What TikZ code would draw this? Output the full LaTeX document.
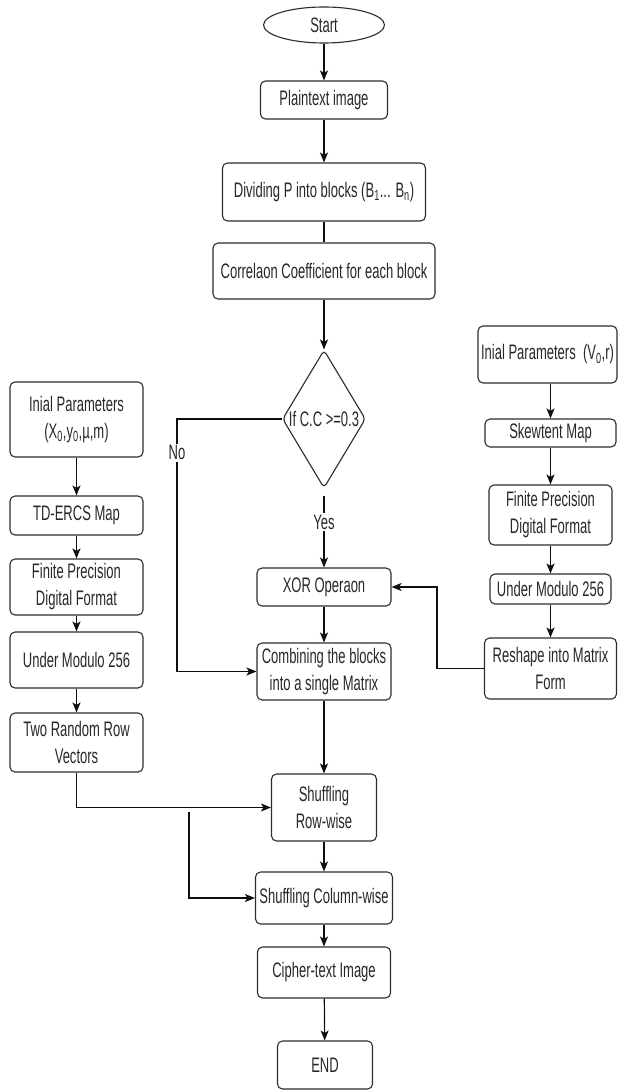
\documentclass[tikz,border=0pt]{standalone}
\usepackage{fontspec}
\setmainfont{Liberation Sans}[FakeStretch=0.62]
\usetikzlibrary{shapes.geometric,arrows.meta,calc}
\definecolor{linec}{RGB}{45,45,45}
\definecolor{txtc}{RGB}{40,40,40}
\definecolor{arrc}{RGB}{15,15,15}
\begin{document}
\begin{tikzpicture}[x=1pt,y=-1pt,
  font=\fontsize{21}{27}\selectfont,
  box/.style={draw=linec, line width=1.1pt, rounded corners=5pt, inner sep=1pt, align=center, text=txtc},
  sz/.style 2 args={minimum width=#1pt, minimum height=#2pt},
  arr/.style={draw=arrc, line width=1.2pt, -{Stealth[length=10pt,width=8pt,inset=2.5pt]}},
  ln/.style={draw=arrc, line width=1.2pt},
  lbl/.style={fill=white, inner sep=2pt, text=txtc}]
\useasboundingbox (0,0) rectangle (618,1091);
\fill[white] (0,0) rectangle (618,1091);

% main column
\node[draw=linec, line width=1.1pt, ellipse, inner sep=0, sz={121}{36}, text=txtc] (start) at (324,25) {Start};
\node[box, sz={127}{38}] (plain) at (324,100) {Plaintext image};
\node[box, sz={203}{58}] (div) at (324,192) {Dividing P into blocks (B\textsubscript{1}... B\textsubscript{n})};
\node[box, sz={222}{56}] (corr) at (324,271) {Correlaon Coefficient for each block};
\node[draw=linec, line width=1.1pt, diamond, rounded corners=4pt, inner sep=0, sz={83}{138}] (dec) at (324,419) {};
\node[text=txtc, inner sep=0] (dectxt) at (dec) {If C.C >=0.3};
\node[box, sz={134}{38}] (xor) at (324,587) {XOR Operaon};
\node[box, sz={134}{57}] (comb) at (324,671.5) {Combining the blocks\\into a single Matrix};
\node[box, sz={105}{67}] (row) at (324,807.5) {Shuffling\\Row-wise};
\node[box, sz={137}{52}] (col) at (324,898) {Shuffling Column-wise};
\node[box, sz={133}{51}] (cipher) at (324,972.5) {Cipher-text Image};
\node[box, sz={95}{48}] (end) at (325,1065) {END};

% left column
\node[box, sz={133}{75}] (init1) at (76.5,419.5) {Inial Parameters\\(X\textsubscript{0},y\textsubscript{0},µ,m)};
\node[box, sz={133}{39}] (td) at (76.5,515.5) {TD-ERCS Map};
\node[box, sz={133}{56}] (fin1) at (76.5,587) {Finite Precision\\Digital Format};
\node[box, sz={133}{56}] (mod1) at (76.5,660) {Under Modulo 256};
\node[box, sz={133}{59}] (two) at (76.5,742.5) {Two Random Row\\Vectors};

% right column
\node[box, sz={139}{57}] (init2) at (547.5,354.5) {Inial Parameters\ \ (V\textsubscript{0},r)};
\node[box, sz={131}{28}] (skew) at (550.5,433) {Skewtent Map};
\node[box, sz={123}{60}] (fin2) at (550.5,515) {Finite Precision\\Digital Format};
\node[box, sz={121}{30}] (mod2) at (550.5,589) {Under Modulo 256};
\node[box, sz={132}{61}] (reshape) at (550.5,668.5) {Reshape into Matrix\\Form};

% main connectors
\draw[arr] (start) -- (plain);
\draw[arr] (plain) -- (div);
\draw[ln] (div) -- (corr);
\draw[arr] (corr) -- (dec);
\draw[arr, shorten <=7pt] (dec.south) -- node[lbl, pos=0.425] {Yes} (xor.north);
\draw[arr] (dec.west) -- ++(-105,0) coordinate (nocorner)
   -- node[lbl, pos=0.134] {No} (nocorner |- comb.west) -- (comb.west);
\draw[arr] (xor) -- (comb);
\draw[arr] (comb) -- (row);
\draw[arr] (row) -- (col);
\draw[arr] (col) -- (cipher);
\draw[arr] (cipher) -- (end);

% left connectors
\draw[arr] (init1) -- (td);
\draw[arr] (td) -- (fin1);
\draw[arr] (fin1) -- (mod1);
\draw[arr] (mod1) -- (two);
\draw[arr] (two.south) |- (row.west);
\coordinate (branch) at (189,812);
\draw[arr] (branch) |- (col.west);

% right connectors
\draw[arr] (init2.south -| skew.north) -- (skew.north);
\draw[arr] (skew) -- (fin2);
\draw[arr] (fin2) -- (mod2);
\draw[arr] (mod2) -- (reshape);
\draw[arr] (reshape.west) -- ++(-47,0) |- (xor.east);
\end{tikzpicture}
\end{document}
